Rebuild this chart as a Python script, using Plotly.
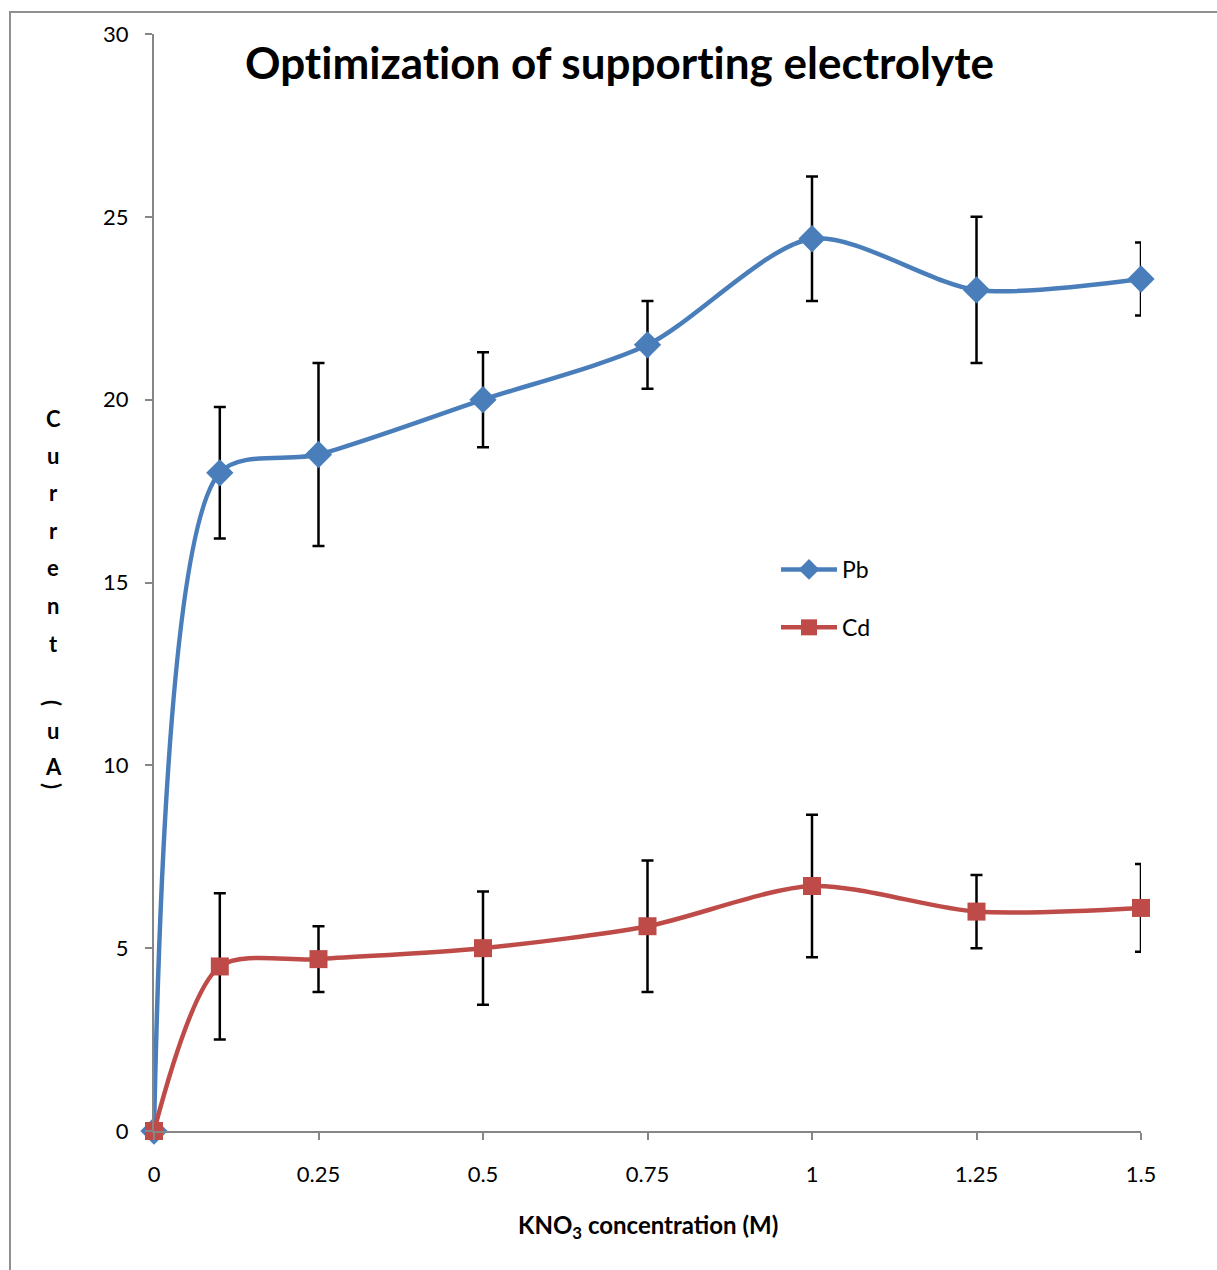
import plotly.graph_objects as go

# KNO3 concentration (M)
conc = [0, 0.1, 0.25, 0.5, 0.75, 1.0, 1.25, 1.5]

# Peak currents (uA) and their error bars
pb_current = [0, 18.0, 18.5, 20.0, 21.5, 24.4, 23.0, 23.3]
pb_error = [0, 1.8, 2.5, 1.3, 1.2, 1.7, 2.0, 1.0]
cd_current = [0, 4.5, 4.7, 5.0, 5.6, 6.7, 6.0, 6.1]
cd_error = [0, 2.0, 0.9, 1.55, 1.8, 1.95, 1.0, 1.2]

x_ticks = [0, 0.25, 0.5, 0.75, 1, 1.25, 1.5]
x_tick_labels = ["0", "0.25", "0.5", "0.75", "1", "1.25", "1.5"]
y_ticks = [0, 5, 10, 15, 20, 25, 30]

# characters of the stacked vertical axis title, top to bottom
# (the brackets are turned a quarter turn, as in vertical writing)
y_title_chars = ["C", "u", "r", "r", "e", "n", "t", "(", "u", "A", ")"]
y_title_px = [418, 455, 492, 530, 567, 605, 643, 703, 730, 766, 786]

FONT = "Lato, 'Open Sans', sans-serif"
PB_COLOR = "#4A7EBB"
CD_COLOR = "#BE4B48"

W, H = 1217, 1270
M_L, M_R, M_T, M_B = 154, 76, 34, 139
PLOT_H = H - M_T - M_B

fig = go.Figure()

for name, ys, errs, color, sym, size in [
    ("Pb", pb_current, pb_error, PB_COLOR, "diamond", 21),
    ("Cd", cd_current, cd_error, CD_COLOR, "square", 18),
]:
    fig.add_trace(go.Scatter(
        x=conc, y=ys, name=name, legendgroup=name,
        mode="lines+markers", cliponaxis=False,
        line=dict(color=color, width=4.5, shape="spline", smoothing=0.8),
        marker=dict(symbol=sym, size=size, color=color),
        error_y=dict(type="data", array=errs, visible=True,
                     color="black", thickness=2.5, width=6),
    ))

# a zero-width non-joiner keeps the "ti" pairs from forming ligatures
title = "Optimization of supporting electrolyte".replace("ti", "t\u200ci")

annotations = [
    dict(text="<b>" + title + "</b>",
         xref="paper", yref="paper", x=(619 - M_L) / (W - M_L - M_R), y=1.0,
         xanchor="center", yanchor="top",
         showarrow=False, font=dict(size=44, family=FONT)),
    dict(text="<b>KNO<sub>3</sub> concentration (M)</b>",
         xref="paper", yref="paper", x=0.5, y=0, yshift=-95,
         xanchor="center", yanchor="middle",
         showarrow=False, font=dict(size=24, family=FONT)),
]
for ch, py in zip(y_title_chars, y_title_px):
    annotations.append(dict(
        text="<b>" + ch + "</b>", xref="paper", yref="paper",
        x=0, xshift=53 - M_L, y=(H - M_B - py) / PLOT_H,
        xanchor="center", yanchor="middle", showarrow=False,
        textangle=90 if ch in "()" else 0,
        font=dict(size=22, family=FONT),
    ))

fig.update_layout(
    width=W, height=H,
    margin=dict(l=M_L, r=M_R, t=M_T, b=M_B),
    paper_bgcolor="white", plot_bgcolor="white",
    font=dict(family=FONT, size=22, color="black"),
    showlegend=True,
    legend=dict(x=(776 - M_L) / (W - M_L - M_R), y=(H - M_B - 548) / PLOT_H,
                xanchor="left", yanchor="top",
                font=dict(size=23), tracegroupgap=25, itemwidth=56,
                bgcolor="rgba(0,0,0,0)"),
    xaxis=dict(range=[0, 1.5], tickvals=x_ticks, ticktext=x_tick_labels,
               showgrid=False, zeroline=False, showline=True,
               linecolor="#868686", linewidth=2, ticks="outside",
               ticklen=7, tickcolor="#868686", tickwidth=2,
               tickfont=dict(size=22), ticklabelstandoff=16),
    yaxis=dict(range=[0, 30], tickvals=y_ticks,
               showgrid=False, zeroline=False, showline=True,
               linecolor="#868686", linewidth=2, ticks="outside",
               ticklen=7, tickcolor="#868686", tickwidth=2,
               tickfont=dict(size=22), ticklabelstandoff=12),
    annotations=annotations,
    shapes=[
        dict(type="rect", xref="paper", yref="paper",
             x0=(10 - M_L) / (W - M_L - M_R), x1=1.2,
             y0=-0.2, y1=(H - M_B - 12) / PLOT_H,
             line=dict(color="#909090", width=2), layer="below"),
    ],
)

fig.write_html("out.html")
